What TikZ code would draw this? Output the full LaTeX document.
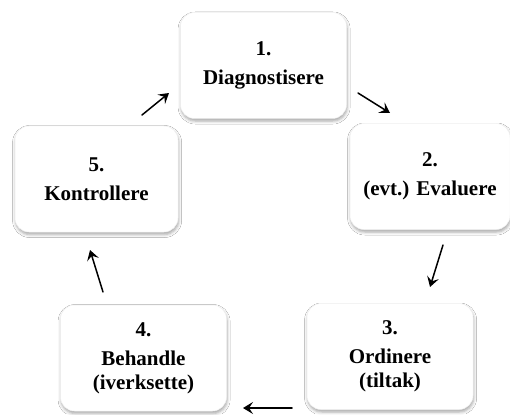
\documentclass[tikz,border=0pt]{standalone}
\usepackage{fontspec}
\setmainfont{Liberation Serif}
\usetikzlibrary{arrows.meta,shadows.blur}
\begin{document}
\begin{tikzpicture}[x=1pt,y=-1pt,
  stepbox/.style={rounded corners=14pt, draw=black!6, line width=0.5pt, fill=white,
    minimum width=166pt, minimum height=106pt, inner sep=2pt, align=center,
    font=\fontsize{21}{24}\selectfont\bfseries,
    blur shadow={shadow xshift=0.6pt, shadow yshift=-2.5pt, shadow blur radius=3pt, shadow opacity=35}},
  cyc/.style={line width=1.5pt, line cap=round, -{Stealth[length=10pt,width=12pt,inset=4pt]}}]
\useasboundingbox[fill=white] (0,0) rectangle (510,414);

% the five steps of the cycle
\node[stepbox] (s1) at (263.5,65.5) {1.\\[5pt]Diagnostisere};
\node[stepbox, minimum width=160pt] (s2) at (430,176.5) {2.\\[5pt](evt.) Evaluere};
\node[stepbox] (s3) at (390,356.5) {3.\\[5pt]Ordinere\\(tiltak)};
\node[stepbox] (s4) at (143.5,358) {4.\\[5pt]Behandle\\(iverksette)};
\node[stepbox, minimum width=163pt] (s5) at (96.5,179) {5.\\[5pt]Kontrollere};

% short arrows between the steps
\coordinate (a51) at (142,115);  \coordinate (b51) at (169,93);
\coordinate (a12) at (358,93);   \coordinate (b12) at (390,113);
\coordinate (a23) at (443,245);  \coordinate (b23) at (430,287);
\coordinate (a34) at (292,408);  \coordinate (b34) at (243,408);
\coordinate (a45) at (103,292);  \coordinate (b45) at (90,250);

\draw[cyc] (a51) -- (b51);
\draw[cyc] (a12) -- (b12);
\draw[cyc] (a23) -- (b23);
\draw[cyc] (a34) -- (b34);
\draw[cyc] (a45) -- (b45);
\end{tikzpicture}
\end{document}
